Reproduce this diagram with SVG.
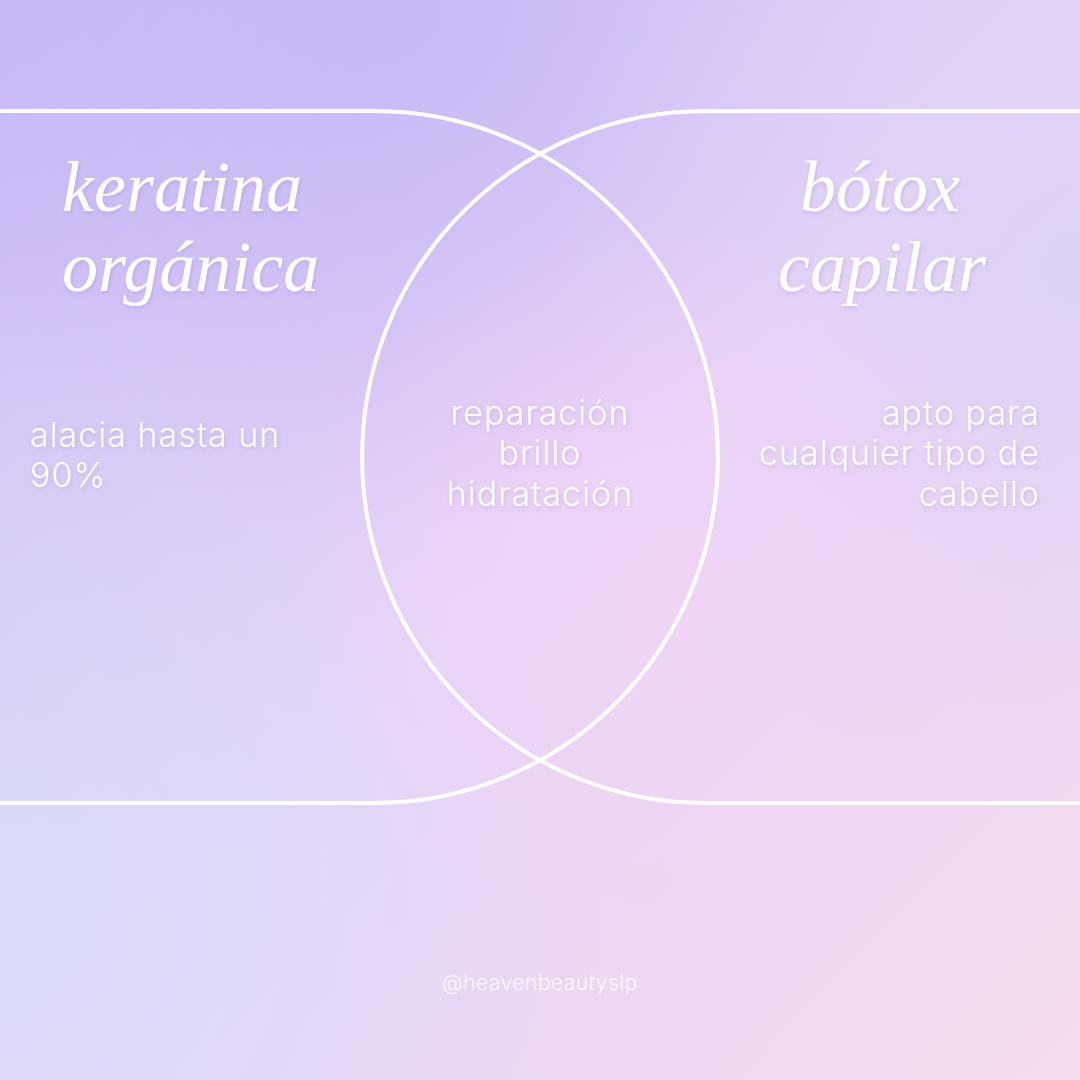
<svg xmlns="http://www.w3.org/2000/svg" width="1080" height="1080" viewBox="0 0 1080 1080">
  <defs>
    <linearGradient id="bgBase" x1="0" y1="0" x2="1" y2="1">
      <stop offset="0" stop-color="#c8b9f6"/>
      <stop offset="0.5" stop-color="#e9d3f7"/>
      <stop offset="1" stop-color="#f4dcec"/>
    </linearGradient>
    <radialGradient id="blueBL" cx="0" cy="0.85" r="0.6">
      <stop offset="0" stop-color="#d7dcf8" stop-opacity="0.9"/>
      <stop offset="1" stop-color="#d7dcf8" stop-opacity="0"/>
    </radialGradient>
    <radialGradient id="lavTR" cx="1" cy="0.25" r="0.5">
      <stop offset="0" stop-color="#dcd2f7" stop-opacity="0.9"/>
      <stop offset="1" stop-color="#dcd2f7" stop-opacity="0"/>
    </radialGradient>
    <radialGradient id="pinkC" cx="0.62" cy="0.55" r="0.35">
      <stop offset="0" stop-color="#f1d4f6" stop-opacity="0.8"/>
      <stop offset="1" stop-color="#f1d4f6" stop-opacity="0"/>
    </radialGradient>
    <radialGradient id="purpleTL" cx="0.35" cy="0" r="0.5">
      <stop offset="0" stop-color="#c6b8f5" stop-opacity="0.9"/>
      <stop offset="1" stop-color="#c6b8f5" stop-opacity="0"/>
    </radialGradient>
    <filter id="shadow" x="-10%" y="-20%" width="120%" height="150%">
      <feDropShadow dx="1" dy="2" stdDeviation="2" flood-color="#8a6fb8" flood-opacity="0.25"/>
    </filter>
  </defs>
  <style>
    .shape { fill: none; stroke: #ffffff; stroke-width: 4; }
    .title { font-family: "Liberation Serif", "DejaVu Serif", serif; font-style: italic; font-size: 72px; fill: #ffffff; filter: url(#shadow); }
    .body { font-family: Inter, "Open Sans", "Noto Sans", sans-serif; font-weight: 300; font-size: 34px; letter-spacing: 1px; fill: #ffffff; filter: url(#shadow); }
    .mark { font-family: Inter, "Open Sans", "Noto Sans", sans-serif; font-weight: 300; font-size: 21px; letter-spacing: 0.5px; fill: #ffffff; fill-opacity: 0.85; }
  </style>

  <rect x="0" y="0" width="1080" height="1080" fill="url(#bgBase)"/>
  <rect x="0" y="0" width="1080" height="1080" fill="url(#purpleTL)"/>
  <rect x="0" y="0" width="1080" height="1080" fill="url(#lavTR)"/>
  <rect x="0" y="0" width="1080" height="1080" fill="url(#blueBL)"/>
  <rect x="0" y="0" width="1080" height="1080" fill="url(#pinkC)"/>

  <g id="connectors"></g>

  <g id="node-keratina">
    <path class="shape" d="M0,111 H375 A343,346 0 0 1 375,803 H0"/>
    <text class="title" x="62" y="211">keratina</text>
    <text class="title" x="62" y="291">orgánica</text>
    <text class="body" x="30" y="447">alacia hasta un</text>
    <text class="body" x="30" y="487">90%</text>
  </g>

  <g id="node-botox">
    <path class="shape" d="M1080,111 H705 A343,346 0 0 0 705,803 H1080"/>
    <text class="title" x="880" y="211" text-anchor="middle">bótox</text>
    <text class="title" x="882" y="291" text-anchor="middle">capilar</text>
    <text class="body" x="1040" y="425" text-anchor="end">apto para</text>
    <text class="body" x="1040" y="465" text-anchor="end">cualquier tipo de</text>
    <text class="body" x="1040" y="506" text-anchor="end">cabello</text>
  </g>

  <g id="node-shared">
    <text class="body" x="540" y="425" text-anchor="middle">reparación</text>
    <text class="body" x="540" y="465" text-anchor="middle">brillo</text>
    <text class="body" x="540" y="506" text-anchor="middle">hidratación</text>
  </g>

  <g id="watermark">
    <text class="mark" x="540" y="990" text-anchor="middle">@heavenbeautyslp</text>
  </g>
</svg>
